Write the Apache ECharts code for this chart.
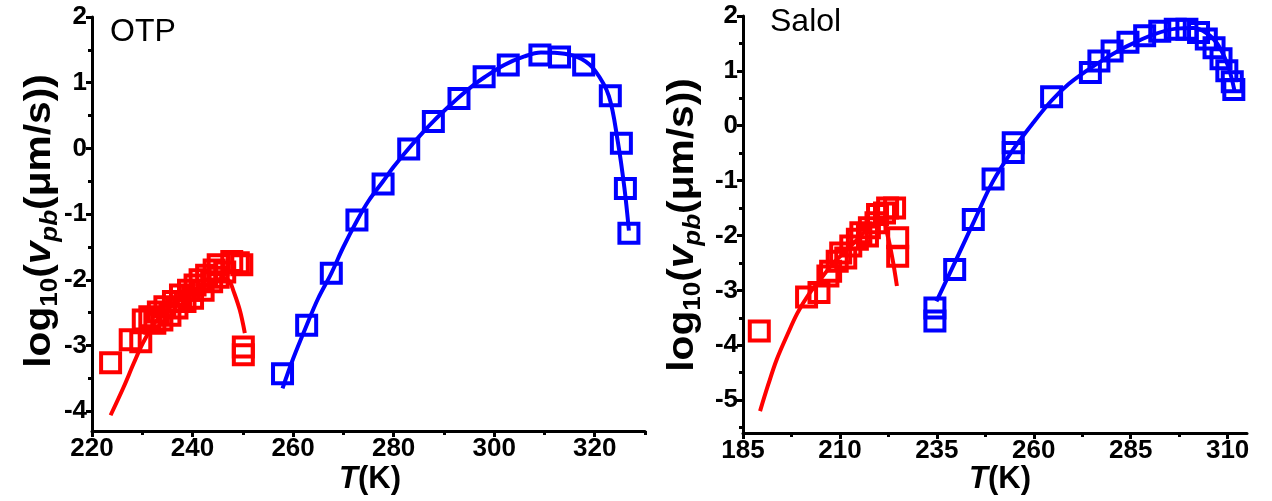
<!DOCTYPE html>
<html>
<head>
<meta charset="utf-8">
<script src="https://cdn.jsdelivr.net/npm/echarts@6/dist/echarts.min.js"></script>
<style>
html,body{margin:0;padding:0;background:#fff;}
#c{width:1272px;height:501px;}
</style>
</head>
<body>
<div id="c"></div>
<script>
// ---------- OTP panel ----------
const otpRedT = [223.7,227.6,229.7,230.2,231.5,232.5,233.2,233.9,234.5,235.5,236.2,236.9,237.6,238.5,239.2,240.0,240.5,241.5,242.1,242.8,243.8,244.3,245.1,245.1,246.4,247.8,249.1,249.8,250.1,250.1];
const otpRedV = [-3.26,-2.91,-2.94,-2.61,-2.56,-2.66,-2.49,-2.61,-2.41,-2.54,-2.33,-2.43,-2.23,-2.33,-2.16,-2.28,-2.08,-2.00,-2.16,-1.93,-2.03,-1.85,-1.96,-1.77,-1.88,-1.72,-1.74,-1.77,-3.02,-3.14];
const otpRedFitT = [223.7,226.3,228.3,230.2,232.9,236.2,239.5,242.8,245.0,246.4,247.4,248.1,249.4,250.4];
const otpRedFitV = [-4.06,-3.63,-3.27,-2.95,-2.61,-2.38,-2.21,-2.08,-2.00,-1.98,-2.03,-2.16,-2.46,-2.81];
const otpBlueT = [257.9,262.7,267.6,272.7,277.9,283.0,287.9,293.0,298.0,302.8,309.1,313.0,317.8,323.1,325.3,326.1,326.8];
const otpBlueV = [-3.43,-2.69,-1.90,-1.09,-0.54,-0.01,0.41,0.76,1.09,1.27,1.42,1.39,1.27,0.80,0.08,-0.61,-1.29];
const otpBlueFitT = [257.9,260,262.7,265,267.6,270,272.7,275,277.9,280,283,286,288,291,293,296,298,302,306,309.3,314,317.4,320.1,322.8,324.6,325.9,326.8];
const otpBlueFitV = [-3.65,-3.2,-2.69,-2.28,-1.9,-1.5,-1.1,-0.8,-0.5,-0.28,0.0,0.26,0.42,0.64,0.78,0.97,1.08,1.27,1.4,1.46,1.44,1.36,1.18,0.8,0.1,-0.6,-1.25];
const otpXTicks = [220,240,260,280,300,320];
const otpXMinor = [230,250,270,290,310,330];
const otpYTicks = [-4,-3,-2,-1,0,1,2];
const otpYMinor = [-3.5,-2.5,-1.5,-0.5,0.5,1.5];

// ---------- Salol panel ----------
const salRedT = [189.2,201.4,204.6,206.9,207.6,209.3,210.2,211.5,212.8,214.5,215.4,217.1,217.6,219.3,219.7,221.5,222.3,224.1,224.9,224.9];
const salRedV = [-3.74,-3.12,-3.04,-2.74,-2.65,-2.47,-2.32,-2.41,-2.19,-2.07,-1.95,-2.01,-1.86,-1.77,-1.62,-1.59,-1.50,-1.50,-2.04,-2.38];
const salRedFitT = [189.4,191.5,193.7,196.5,199,202,205,207.6,210.5,213.7,216,218,220,221,222.3,223.6,224.7];
const salRedFitV = [-5.2,-4.72,-4.26,-3.8,-3.42,-3.07,-2.8,-2.56,-2.35,-2.13,-1.96,-1.83,-1.72,-1.72,-2.0,-2.44,-2.92];
const salBlueT = [234.5,234.5,239.6,244.4,249.5,254.7,254.7,264.6,274.6,276.8,280.2,284.3,288.6,292.5,296.5,299.5,302.5,304.5,306.5,308.3,309.8,311.2,311.6];
const salBlueV = [-3.56,-3.32,-2.62,-1.71,-0.97,-0.49,-0.31,0.53,0.97,1.18,1.36,1.52,1.64,1.72,1.76,1.76,1.70,1.58,1.42,1.22,1.00,0.80,0.66];
const salBlueFitT = [234.9,239.6,244.4,249.5,254.7,259.8,264.6,269,273.6,277.9,282.2,285.6,290.8,296.8,301.1,304.5,307.5,310.1,311.8];
const salBlueFitV = [-3.20,-2.50,-1.77,-1.01,-0.43,0.05,0.46,0.76,1.0,1.2,1.38,1.5,1.66,1.77,1.78,1.69,1.48,1.09,0.63];
const salXTicks = [185,210,235,260,285,310];
const salXMinor = [197.5,222.5,247.5,272.5,297.5];
const salYTicks = [-5,-4,-3,-2,-1,0,1,2];
const salYMinor = [-5.5,-4.5,-3.5,-2.5,-1.5,-0.5,0.5,1.5];

const RED = '#ff0000', BLUE = '#0000ff';
const FONT = '"Liberation Sans", Arial, sans-serif';
const zip = (a, b) => a.map((v, i) => [v, b[i]]);

function xAxes(grid, min, max, ticks, minor) {
  return [
    { gridIndex: grid, type: 'value', position: 'bottom', min: min, max: max,
      axisLine: { show: true, onZero: false, lineStyle: { color: '#000', width: 3 } },
      axisTick: { show: true, customValues: ticks, length: 6, lineStyle: { color: '#000', width: 3 } },
      axisLabel: { customValues: ticks, color: '#000', fontSize: 26, fontWeight: 'bold', fontFamily: FONT, margin: 5 },
      splitLine: { show: false } },
    { gridIndex: grid, type: 'value', position: 'bottom', min: min, max: max,
      axisLine: { show: false, onZero: false },
      axisTick: { show: true, customValues: minor, length: 4, lineStyle: { color: '#000', width: 3 } },
      axisLabel: { show: false }, splitLine: { show: false } }
  ];
}
function yAxes(grid, min, max, ticks, minor) {
  return [
    { gridIndex: grid, type: 'value', position: 'left', min: min, max: max,
      axisLine: { show: true, onZero: false, lineStyle: { color: '#000', width: 3 } },
      axisTick: { show: true, customValues: ticks, length: 6, lineStyle: { color: '#000', width: 3 } },
      axisLabel: { customValues: ticks, color: '#000', fontSize: 26, fontWeight: 'bold', fontFamily: FONT, margin: 5 },
      splitLine: { show: false } },
    { gridIndex: grid, type: 'value', position: 'left', min: min, max: max,
      axisLine: { show: false, onZero: false },
      axisTick: { show: true, customValues: minor, length: 4, lineStyle: { color: '#000', width: 3 } },
      axisLabel: { show: false }, splitLine: { show: false } }
  ];
}
function squares(xi, yi, data, color) {
  return { type: 'scatter', xAxisIndex: xi, yAxisIndex: yi, data: data, symbol: 'rect', symbolSize: 19,
    itemStyle: { color: 'rgba(0,0,0,0)', borderColor: color, borderWidth: 4, opacity: 1 }, z: 2, silent: true };
}
function fit(xi, yi, data, color) {
  return { type: 'line', xAxisIndex: xi, yAxisIndex: yi, data: data, showSymbol: false, smooth: 0.35,
    lineStyle: { color: color, width: 4 }, z: 3, silent: true };
}

const yNameRich = {
  a: { fontSize: 36, fontWeight: 'bold', fontFamily: FONT, color: '#000', lineHeight: 44 },
  s: { fontSize: 23, fontWeight: 'bold', fontFamily: FONT, color: '#000', verticalAlign: 'bottom', lineHeight: 22 },
  v: { fontSize: 36, fontWeight: 'bold', fontStyle: 'italic', fontFamily: FONT, color: '#000', lineHeight: 44 },
  sv: { fontSize: 23, fontWeight: 'bold', fontStyle: 'italic', fontFamily: FONT, color: '#000', verticalAlign: 'bottom', lineHeight: 22 }
};
const yNameText = '{a|log}{s|10}{a|(}{v|v}{sv|pb}{a|(μm/s))}';
const xNameRich = {
  i: { fontSize: 31, fontWeight: 'bold', fontStyle: 'italic', fontFamily: FONT, color: '#000' },
  n: { fontSize: 31, fontWeight: 'bold', fontFamily: FONT, color: '#000' }
};
const xNameText = '{i|T}{n|(K)}';

const chart = echarts.init(document.getElementById('c'), null, { renderer: 'canvas' });
chart.setOption({
  animation: false,
  backgroundColor: '#fff',
  grid: [
    { left: 92, top: 17, width: 553, height: 414, containLabel: false },
    { left: 743, top: 16, width: 504, height: 417, containLabel: false }
  ],
  xAxis: [].concat(xAxes(0, 220, 330, otpXTicks, otpXMinor), xAxes(1, 185, 315, salXTicks, salXMinor)),
  yAxis: [].concat(yAxes(0, -4.3, 2, otpYTicks, otpYMinor), yAxes(1, -5.6, 2, salYTicks, salYMinor)),
  series: [
    squares(0, 0, zip(otpRedT, otpRedV), RED),
    fit(0, 0, zip(otpRedFitT, otpRedFitV), RED),
    squares(0, 0, zip(otpBlueT, otpBlueV), BLUE),
    fit(0, 0, zip(otpBlueFitT, otpBlueFitV), BLUE),
    squares(2, 2, zip(salRedT, salRedV), RED),
    fit(2, 2, zip(salRedFitT, salRedFitV), RED),
    squares(2, 2, zip(salBlueT, salBlueV), BLUE),
    fit(2, 2, zip(salBlueFitT, salBlueFitV), BLUE)
  ],
  graphic: [
    { type: 'text', left: 110, top: 16, style: { text: 'OTP', fontSize: 32, fontFamily: FONT, fill: '#000' } },
    { type: 'text', left: 770, top: 6, style: { text: 'Salol', fontSize: 32, fontFamily: FONT, fill: '#000' } },
    { type: 'text', x: 40, y: 221, rotation: Math.PI / 2, scaleX: 1.13,
      style: { text: yNameText, rich: yNameRich, align: 'center', verticalAlign: 'middle' } },
    { type: 'text', x: 683, y: 225, rotation: Math.PI / 2, scaleX: 1.13,
      style: { text: yNameText, rich: yNameRich, align: 'center', verticalAlign: 'middle' } },
    { type: 'text', x: 370, y: 479, style: { text: xNameText, rich: xNameRich, align: 'center', verticalAlign: 'middle' } },
    { type: 'text', x: 1000, y: 479, style: { text: xNameText, rich: xNameRich, align: 'center', verticalAlign: 'middle' } }
  ]
});
</script>
</body>
</html>
